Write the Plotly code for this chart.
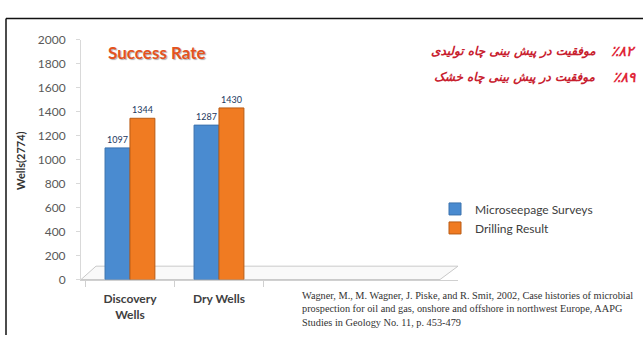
import plotly.graph_objects as go

# --- data -------------------------------------------------------------
categories = ["Discovery<br>Wells", "Dry Wells"]
microseepage_surveys = [1097, 1287]
drilling_result = [1344, 1430]
y_tick_values = [0, 200, 400, 600, 800, 1000, 1200, 1400, 1600, 1800, 2000]

success_lines = [
    ("٪۸۲", "موفقیت در پیش بینی چاه تولیدی"),
    ("٪۸۹", "موفقیت در پیش بینی چاه خشک"),
]
citation = (
    "Wagner, M., M. Wagner, J. Piske, and R. Smit, 2002, Case histories of microbial<br>"
    "prospection for oil and gas, onshore and offshore in northwest Europe, AAPG<br>"
    "Studies in Geology No. 11, p. 453-479"
)

# --- page geometry helpers (pixels -> paper fractions) ----------------
W, H = 643, 342


def px(x):
    return x / W


def py(y):
    return 1 - y / H


BLUE, BLUE_EDGE = "#4A8BD0", "#3B72AE"
ORANGE, ORANGE_EDGE = "#F07B22", "#B95B14"
LABEL_FONT = dict(family="Lato, sans-serif", size=9, color="#22385E")

fig = go.Figure()
fig.add_bar(
    name="Microseepage Surveys",
    x=categories,
    y=microseepage_surveys,
    marker=dict(color=BLUE, line=dict(color=BLUE_EDGE, width=1)),
    text=microseepage_surveys,
    textposition="outside",
    textfont=LABEL_FONT,
    cliponaxis=False,
)
fig.add_bar(
    name="Drilling Result",
    x=categories,
    y=drilling_result,
    marker=dict(color=ORANGE, line=dict(color=ORANGE_EDGE, width=1)),
    text=drilling_result,
    textposition="outside",
    textfont=LABEL_FONT,
    cliponaxis=False,
)

# floor of the plot area, drawn as a flat parallelogram
floor_path = (
    f"M {px(81)} {py(284)} L {px(440)} {py(284)} "
    f"L {px(458)} {py(270)} L {px(96)} {py(270)} Z"
)
shapes = [
    dict(type="path", path=floor_path, xref="paper", yref="paper",
         line=dict(color="#C9C9C9", width=1), fillcolor="rgba(245,245,245,0.6)",
         layer="below"),
    # frame around the slide
    dict(type="line", xref="paper", yref="paper",
         x0=px(6), x1=px(6), y0=py(11), y1=0,
         line=dict(color="#111111", width=1.5)),
    dict(type="line", xref="paper", yref="paper",
         x0=px(6), x1=1, y0=py(11), y1=py(11),
         line=dict(color="#111111", width=1.5)),
]

annotations = [
    dict(text="<b>Success Rate</b>", x=px(157), y=py(47), xref="paper", yref="paper",
         showarrow=False, xanchor="center", yanchor="middle",
         font=dict(family="Lato, sans-serif", size=17, color="#E4531E",
                   shadow="1px 1px 1px #B0B0B0")),
    dict(text="<b>Wells(2774)</b>", x=px(21), y=py(160), xref="paper", yref="paper",
         showarrow=False, textangle=-90, xanchor="center", yanchor="middle",
         font=dict(family="Lato, sans-serif", size=11, color="#333333")),
    dict(text=citation, x=px(300), y=py(315), xref="paper", yref="paper",
         showarrow=False, xanchor="left", yanchor="middle", align="left",
         font=dict(family="Liberation Serif, serif", size=10.3, color="#333333")),
]

line_y = [45, 72]
for (pct, phrase), yy in zip(success_lines, line_y):
    annotations.append(
        dict(text=f"<b><i>{pct}</i></b>", x=px(638), y=py(yy), xref="paper", yref="paper",
             showarrow=False, xanchor="right", yanchor="middle",
             font=dict(family="DejaVu Sans, sans-serif", size=14, color="#E0283A")))
    annotations.append(
        dict(text=f"<b><i>{phrase}</i></b>", x=px(598), y=py(yy + 1), xref="paper",
             yref="paper", showarrow=False, xanchor="right", yanchor="middle",
             font=dict(family="DejaVu Sans, sans-serif", size=12, color="#C8202E")))

fig.update_layout(
    width=W,
    height=H,
    margin=dict(l=0, r=0, t=0, b=0),
    paper_bgcolor="white",
    plot_bgcolor="rgba(0,0,0,0)",
    barmode="group",
    bargap=0.44,
    bargroupgap=0,
    showlegend=True,
    legend=dict(x=px(435), y=py(195), xanchor="left", yanchor="top",
                font=dict(family="Lato, sans-serif", size=12, color="#404040"),
                bgcolor="rgba(0,0,0,0)", tracegroupgap=4),
    xaxis=dict(
        domain=[px(81), px(458)],
        range=[-0.55, 3.685],
        type="category",
        showline=True, linecolor="#D0D0D0", linewidth=1,
        ticks="outside", tickson="boundaries", ticklen=6, tickcolor="#D0D0D0",
        ticklabelstandoff=8,
        tickfont=dict(family="Lato, sans-serif", size=12, color="#404040", weight="bold"),
        showgrid=False,
    ),
    yaxis=dict(
        domain=[py(284), py(33)],
        range=[0, 2000],
        tickvals=y_tick_values,
        showline=True, linecolor="#D9D9D9", linewidth=1,
        ticks="outside", ticklen=4, tickcolor="#D9D9D9",
        ticklabelstandoff=8,
        tickfont=dict(family="Lato, sans-serif", size=12, color="#595959"),
        showgrid=False, zeroline=False,
    ),
    shapes=shapes,
    annotations=annotations,
)

fig.write_html("out.html")
